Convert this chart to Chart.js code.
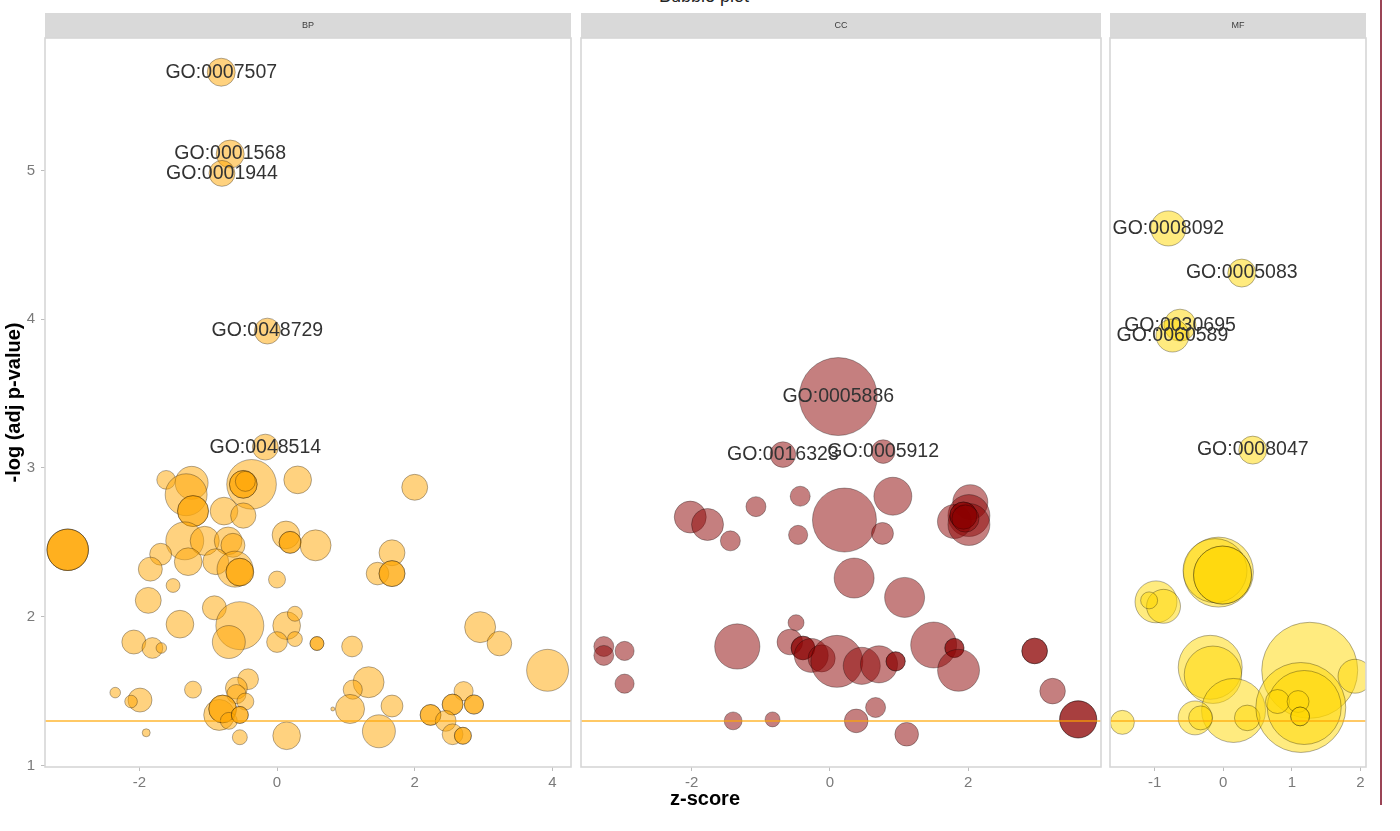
<!DOCTYPE html>
<html>
<head>
<meta charset="utf-8">
<script src="https://cdn.jsdelivr.net/npm/chart.js@4.4.1/dist/chart.umd.min.js"></script>
<style>
html,body{margin:0;padding:0;background:#fff;width:1400px;height:831px;overflow:hidden;}
#wrap{position:relative;width:1400px;height:831px;font-family:"Liberation Sans",Arial,sans-serif;}
canvas{position:absolute;}
.t{position:absolute;white-space:nowrap;text-align:center;}
</style>
</head>
<body>
<div id="wrap">
  <div class="t" id="title" style="left:504px;width:400px;top:-13px;font-size:18px;line-height:18px;color:#222;">Bubble plot</div>
  <canvas id="bp" width="573" height="784" style="left:0px;top:13px;width:573px;height:784px;"></canvas>
  <canvas id="cc" width="524" height="784" style="left:579px;top:13px;width:524px;height:784px;"></canvas>
  <canvas id="mf" width="272" height="784" style="left:1108px;top:13px;width:272px;height:784px;"></canvas>
  <div class="t" id="xtitle" style="left:555px;width:300px;top:788px;font-size:20px;line-height:20px;font-weight:bold;color:#000;">z-score</div>
  <div style="position:absolute;left:1380px;top:0;width:1.5px;height:805px;background:#9a4456;"></div>
</div>
<script>
// ---------- axes ----------
const yTicks = [1, 2, 3, 4, 5];
const yRange = [0.99, 5.89];
const threshold = 1.3;           // -log10(0.05)
const bpTicks = [-2, 0, 2, 4];
const ccTicks = [-2, 0, 2];
const mfTicks = [-1, 0, 1, 2];
const bpRange = [-3.37, 4.27];
const ccRange = [-3.60, 3.92];
const mfRange = [-1.65, 2.08];

// ---------- BP (biological process) ----------
const bpZ = [-3.04,-3.04,-3.04,-1.61,-1.24,-1.32,-1.22,-1.22,-0.37,-0.49,
  -0.49,-0.46,-0.77,-0.49,0.30,2.00,0.13,0.19,0.19,0.56,
  -1.34,-1.05,-0.71,-0.64,-1.69,-1.29,-0.89,-1.84,-0.61,-0.54,
  -0.54,-1.51,0.00,1.67,1.46,1.67,1.67,-1.87,-0.91,-0.54,
  -0.70,-1.41,0.14,0.26,0.26,0.00,0.58,0.58,-2.08,-1.81,
  -1.68,1.09,2.95,3.23,3.93,-2.35,-1.99,-2.12,-1.22,-0.42,
  -0.59,-0.59,-0.46,-0.84,-0.79,-0.79,-0.70,-0.54,-0.54,-0.54,
  -1.90,0.14,1.33,1.10,1.06,0.81,1.67,1.48,2.71,2.55,
  2.55,2.86,2.86,2.23,2.23,2.45,2.55,2.70,2.70];
const bpLogP = [2.45,2.45,2.45,2.92,2.90,2.82,2.71,2.71,2.89,2.89,
  2.89,2.91,2.71,2.68,2.92,2.87,2.55,2.50,2.50,2.48,
  2.51,2.51,2.51,2.48,2.42,2.37,2.37,2.32,2.32,2.30,
  2.30,2.21,2.25,2.43,2.29,2.29,2.29,2.11,2.06,1.94,
  1.83,1.95,1.94,2.02,1.85,1.83,1.82,1.82,1.83,1.79,
  1.79,1.80,1.93,1.82,1.64,1.49,1.44,1.43,1.51,1.58,
  1.52,1.48,1.43,1.34,1.38,1.38,1.30,1.34,1.34,1.19,
  1.22,1.20,1.56,1.51,1.38,1.38,1.40,1.23,1.50,1.41,
  1.41,1.41,1.41,1.34,1.34,1.30,1.21,1.20,1.20];
const bpCount = [107,107,107,22,68,110,60,60,154,48,
  48,25,48,40,48,42,48,30,30,60,
  90,53,48,36,30,48,42,36,81,48,
  48,12,18,42,32,42,42,42,36,144,
  68,48,48,14,14,27,12,12,36,27,
  7,27,60,38,110,7,36,10,18,27,
  30,23,18,60,48,48,18,18,18,14,
  4,48,60,23,53,1,30,68,23,27,
  27,23,23,27,27,27,27,18,18];
const bpTopId = ['GO:0007507','GO:0001568','GO:0001944','GO:0048729','GO:0048514'];
const bpTopZ = [-0.81,-0.68,-0.80,-0.14,-0.17];
const bpTopLogP = [5.66,5.11,4.98,3.92,3.14];
const bpTopCount = [49,49,42,42,42];

// ---------- CC (cellular component) ----------
const ccZ = [-0.43,-1.07,0.91,-2.02,-1.77,-1.44,-0.46,0.21,0.76,2.03,
  2.01,1.80,2.01,1.93,1.93,1.96,0.35,1.08,-0.49,-1.34,
  -0.58,-0.39,-0.39,-0.27,-0.12,0.10,0.46,0.71,0.95,0.95,
  1.50,1.80,1.80,1.86,2.96,2.96,3.22,3.59,3.59,-3.27,
  -3.27,-2.97,-2.97,-1.40,-0.83,0.38,0.66,1.11];
const ccLogP = [2.81,2.74,2.81,2.67,2.62,2.51,2.55,2.65,2.56,2.77,
  2.68,2.64,2.62,2.68,2.68,2.66,2.26,2.13,1.96,1.80,
  1.83,1.79,1.79,1.74,1.72,1.70,1.67,1.68,1.70,1.70,
  1.81,1.79,1.79,1.64,1.77,1.77,1.50,1.31,1.31,1.80,
  1.74,1.77,1.55,1.30,1.31,1.30,1.39,1.21];
const ccCount = [25,25,90,64,64,25,23,256,30,77,
  110,72,110,46,46,46,100,100,16,128,
  41,35,35,72,46,169,86,86,23,23,
  132,23,23,110,41,41,41,86,86,25,
  25,23,23,20,14,35,25,35];
const ccTopId = ['GO:0005886','GO:0016323','GO:0005912'];
const ccTopZ = [0.12,-0.68,0.77];
const ccTopLogP = [3.48,3.09,3.11];
const ccTopCount = [380,41,35];

// ---------- MF (molecular function) ----------
const mfZ = [-0.07,-0.12,-0.01,-0.01,-0.98,-0.87,-1.08,-0.19,-0.15,0.15,
  -0.41,-0.33,0.35,1.26,1.92,1.13,1.18,0.79,1.09,1.12,
  1.12,-1.47];
const mfLogP = [2.30,2.31,2.28,2.28,2.10,2.07,2.11,1.66,1.61,1.37,
  1.32,1.32,1.32,1.64,1.60,1.39,1.39,1.43,1.43,1.33,
  1.33,1.29];
const mfCount = [306,256,210,210,110,72,18,256,206,256,
  72,36,41,576,72,506,342,36,30,22,
  22,36];
const mfTopId = ['GO:0008092','GO:0005083','GO:0030695','GO:0060589','GO:0008047'];
const mfTopZ = [-0.80,0.27,-0.63,-0.74,0.43];
const mfTopLogP = [4.61,4.31,3.96,3.89,3.12];
const mfTopCount = [77,49,64,68,49];

// ---------- drawing ----------
const FONT = '"Liberation Sans", Arial, sans-serif';
Chart.defaults.font.family = FONT;

function sizeScale(count) { return 2 * Math.sqrt(count); }

function decoPlugin(strip, ids, zs, ps) {
  return {
    id: 'deco_' + strip,
    beforeDraw(chart) {
      const {ctx, chartArea: a} = chart;
      ctx.save();
      ctx.fillStyle = '#d9d9d9';
      ctx.fillRect(a.left, a.top - 25, a.right - a.left, 25);
      ctx.fillStyle = '#3c3c3c';
      ctx.font = '9px ' + FONT;
      ctx.textAlign = 'center';
      ctx.textBaseline = 'middle';
      ctx.fillText(strip, (a.left + a.right) / 2, a.top - 12.5);
      ctx.restore();
    },
    afterDatasetsDraw(chart) {
      const ctx = chart.ctx, xs = chart.scales.x, ys = chart.scales.y;
      ctx.save();
      ctx.font = '19.5px ' + FONT;
      ctx.fillStyle = '#333333';
      ctx.textAlign = 'center';
      ctx.textBaseline = 'middle';
      ids.forEach((t, i) => ctx.fillText(t, xs.getPixelForValue(zs[i]), ys.getPixelForValue(ps[i])));
      ctx.restore();
    },
    afterDraw(chart) {
      const {ctx, chartArea: a} = chart;
      ctx.save();
      ctx.strokeStyle = '#d6d6d6';
      ctx.lineWidth = 1.6;
      ctx.strokeRect(a.left, a.top, a.right - a.left, a.bottom - a.top);
      ctx.restore();
    }
  };
}

function makePanel(canvasId, p) {
  const z = p.z.concat(p.topZ), lp = p.logP.concat(p.topLogP), cnt = p.count.concat(p.topCount);
  const points = z.map((x, i) => ({x: x, y: lp[i], r: sizeScale(cnt[i])}));
  const tickFont = {size: 15};
  new Chart(document.getElementById(canvasId), {
    type: 'bubble',
    data: {
      datasets: [
        {
          type: 'line',
          data: [{x: p.range[0], y: threshold}, {x: p.range[1], y: threshold}],
          borderColor: 'rgba(255,165,0,0.6)',
          borderWidth: 2,
          pointRadius: 0,
          clip: 0,
          order: 0
        },
        {
          type: 'bubble',
          data: points,
          backgroundColor: p.fill,
          borderColor: 'rgba(0,0,0,0.3)',
          borderWidth: 1,
          clip: 0,
          order: 1
        }
      ]
    },
    options: {
      responsive: false,
      devicePixelRatio: 1,
      animation: false,
      events: [],
      layout: {autoPadding: false, padding: p.padding},
      plugins: {legend: {display: false}, tooltip: {enabled: false}},
      scales: {
        x: {
          type: 'linear', min: p.range[0], max: p.range[1],
          afterBuildTicks: s => { s.ticks = p.ticks.map(v => ({value: v})); },
          afterFit: s => { s.height = 30; },
          ticks: {font: tickFont, color: '#7a7a7a', padding: 3, maxRotation: 0, autoSkip: false},
          grid: {drawOnChartArea: false, drawTicks: true, tickLength: 4, color: '#bdbdbd'},
          border: {display: false}
        },
        y: {
          type: 'linear', min: yRange[0], max: yRange[1], display: p.showY,
          afterBuildTicks: s => { s.ticks = yTicks.map(v => ({value: v})); },
          afterFit: s => { s.width = p.showY ? 45 : 0; },
          ticks: {font: tickFont, color: '#7a7a7a', padding: 6},
          grid: {drawOnChartArea: false, drawTicks: true, tickLength: 4, color: '#bdbdbd'},
          border: {display: false},
          title: {display: true, text: '-log (adj p-value)', font: {size: 20, weight: 'bold'}, color: '#000', padding: {top: 2, bottom: 0}}
        }
      }
    },
    plugins: [decoPlugin(p.strip, p.topId, p.topZ, p.topLogP)]
  });
}

makePanel('bp', {strip: 'BP', z: bpZ, logP: bpLogP, count: bpCount, topId: bpTopId, topZ: bpTopZ, topLogP: bpTopLogP, topCount: bpTopCount,
  range: bpRange, ticks: bpTicks, fill: 'rgba(255,165,0,0.5)', showY: true, padding: {top: 25, left: 0, right: 2, bottom: 0}});
makePanel('cc', {strip: 'CC', z: ccZ, logP: ccLogP, count: ccCount, topId: ccTopId, topZ: ccTopZ, topLogP: ccTopLogP, topCount: ccTopCount,
  range: ccRange, ticks: ccTicks, fill: 'rgba(139,0,0,0.5)', showY: false, padding: {top: 25, left: 2, right: 2, bottom: 0}});
makePanel('mf', {strip: 'MF', z: mfZ, logP: mfLogP, count: mfCount, topId: mfTopId, topZ: mfTopZ, topLogP: mfTopLogP, topCount: mfTopCount,
  range: mfRange, ticks: mfTicks, fill: 'rgba(255,215,0,0.5)', showY: false, padding: {top: 25, left: 2, right: 14, bottom: 0}});
</script>
</body>
</html>
